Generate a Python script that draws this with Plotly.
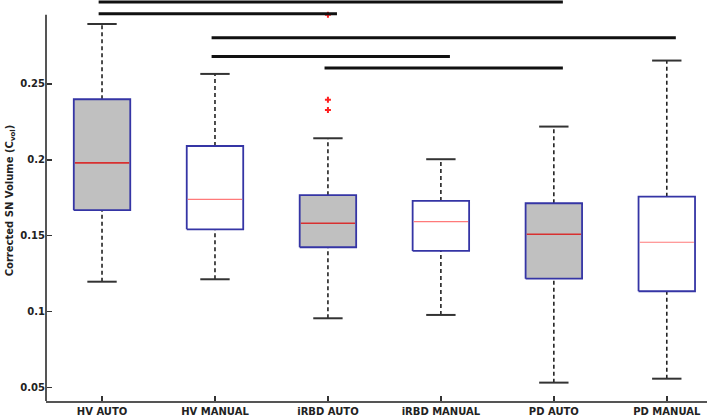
import plotly.graph_objects as go

# ---- data ----
groups = ["HV AUTO", "HV MANUAL", "iRBD AUTO", "iRBD MANUAL", "PD AUTO", "PD MANUAL"]
whisker_low = [0.1197, 0.1213, 0.0956, 0.0978, 0.0532, 0.0558]
q1 = [0.1668, 0.1542, 0.1424, 0.1400, 0.1217, 0.1134]
median = [0.1980, 0.1740, 0.1582, 0.1593, 0.1510, 0.1457]
q3 = [0.2399, 0.2091, 0.1767, 0.1729, 0.1714, 0.1757]
whisker_high = [0.2895, 0.2566, 0.2142, 0.2004, 0.2219, 0.2654]
is_auto = [True, False, True, False, True, False]
outlier_group = [2, 2, 2]
outlier_value = [0.2395, 0.2329, 0.2955]

# significance comparisons (group index pairs) and bar heights
sig_from = [0, 0, 1, 1, 2]
sig_to = [4, 2, 5, 3, 4]
sig_height = [0.3040, 0.2963, 0.2805, 0.2680, 0.2605]

y_ticks = [0.05, 0.1, 0.15, 0.2, 0.25]
y_tick_text = ["0.05", "0.1", "0.15", "0.2", "0.25"]

# ---- styling ----
Y_MIN, Y_MAX = 0.0411, 0.3053
Y_AXIS_TOP = 0.2955
BOX_HALF = 0.25
CAP_HALF = 0.13
BOX_LINE = "#3535a5"
AXIS_COL = "#555555"
FONT = "DejaVu Sans"

fig = go.Figure()

for i, g in enumerate(groups):
    # whiskers (dashed)
    fig.add_trace(go.Scatter(
        x=[i, i, None, i, i], y=[whisker_low[i], q1[i], None, q3[i], whisker_high[i]],
        mode="lines", line=dict(color="#222222", width=1.6, dash="4px,3px"),
        hoverinfo="skip", showlegend=False))
    # caps
    fig.add_trace(go.Scatter(
        x=[i - CAP_HALF, i + CAP_HALF, None, i - CAP_HALF, i + CAP_HALF],
        y=[whisker_low[i], whisker_low[i], None, whisker_high[i], whisker_high[i]],
        mode="lines", line=dict(color="#333333", width=2),
        hoverinfo="skip", showlegend=False))
    # box
    fig.add_trace(go.Scatter(
        x=[i - BOX_HALF, i + BOX_HALF, i + BOX_HALF, i - BOX_HALF, i - BOX_HALF],
        y=[q1[i], q1[i], q3[i], q3[i], q1[i]],
        mode="lines", fill="toself",
        fillcolor="#c0c0c0" if is_auto[i] else "#ffffff",
        line=dict(color=BOX_LINE, width=1.8),
        hoverinfo="skip", showlegend=False))
    # median
    fig.add_trace(go.Scatter(
        x=[i - BOX_HALF + 0.01, i + BOX_HALF - 0.01], y=[median[i], median[i]],
        mode="lines",
        line=dict(color="#d83030" if is_auto[i] else "#ff7a7a", width=1.6 if is_auto[i] else 1.2),
        hoverinfo="skip", showlegend=False))

# outliers
fig.add_trace(go.Scatter(
    x=outlier_group, y=outlier_value, mode="markers",
    marker=dict(symbol="cross", size=5, color="#ff2020"),
    hoverinfo="skip", showlegend=False, cliponaxis=False))

# significance bars
for a, b, h in zip(sig_from, sig_to, sig_height):
    fig.add_trace(go.Scatter(
        x=[a - 0.03, b + 0.08], y=[h, h], mode="lines",
        line=dict(color="#111111", width=3),
        hoverinfo="skip", showlegend=False))

# y axis line (only up to the axis top, bars sit above it)
fig.add_shape(type="line", xref="paper", yref="paper", x0=0, x1=0,
              y0=0, y1=(Y_AXIS_TOP - Y_MIN) / (Y_MAX - Y_MIN),
              line=dict(color=AXIS_COL, width=2))

fig.update_layout(
    width=709, height=417,
    margin=dict(l=46, r=2, t=0, b=16),
    paper_bgcolor="white", plot_bgcolor="white",
    font=dict(family=FONT, color="#222222"),
    xaxis=dict(
        range=[-0.496, 5.356], tickvals=list(range(len(groups))), ticktext=groups,
        showline=True, linecolor=AXIS_COL, linewidth=2,
        ticks="inside", ticklen=5, tickwidth=1.5, tickcolor="#333333",
        showgrid=False, zeroline=False,
        tickfont=dict(family=FONT, size=10, color="#222222", weight="bold"),
    ),
    yaxis=dict(
        range=[Y_MIN, Y_MAX], tickvals=y_ticks, ticktext=y_tick_text,
        showline=False, ticks="inside", ticklen=6, tickwidth=1.5, tickcolor="#333333",
        showgrid=False, zeroline=False,
        tickfont=dict(family=FONT, size=10, color="#222222", weight="bold"),
        title=dict(text="Corrected SN Volume (C<sub>vol</sub>)", standoff=4,
                   font=dict(family=FONT, size=10, color="#222222", weight="bold")),
    ),
)

fig.write_html("out.html",
               config={"displayModeBar": False, "staticPlot": True},
               post_script="document.body.style.margin='0';document.body.style.overflow='hidden';")
